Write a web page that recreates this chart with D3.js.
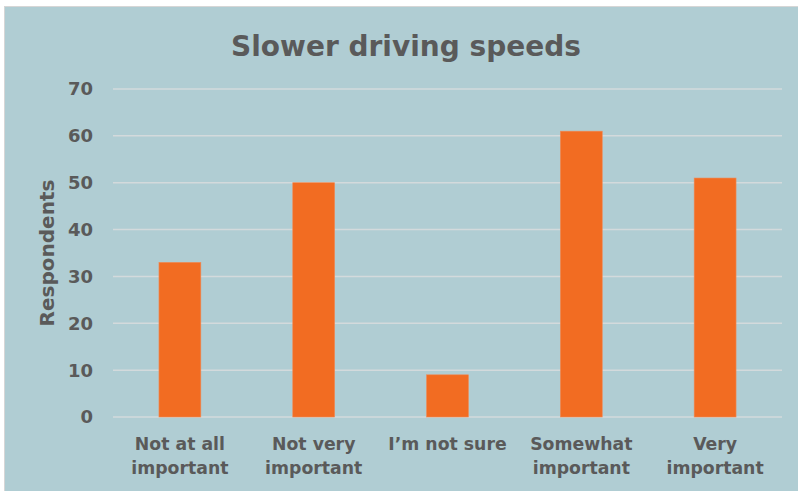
<!DOCTYPE html>
<html><head><meta charset="utf-8">
<script src="https://cdn.jsdelivr.net/npm/d3@7"></script>
<style>html,body{margin:0;padding:0;background:#fff;}svg{display:block;}</style>
</head><body>
<svg id="c" width="798" height="491"></svg>
<script>
const categories = [["Not at all","important"],["Not very","important"],["I’m not sure"],["Somewhat","important"],["Very","important"]];
const values = [33, 50, 9, 61, 51];
const yTicks = [0, 10, 20, 30, 40, 50, 60, 70];
const title = "Slower driving speeds";
const yTitle = "Respondents";

const svg = d3.select("#c");
const W = 798, H = 491;
const font = "'DejaVu Sans', sans-serif";
const textCol = "#5a5a5a";

svg.append("rect").attr("x", 4).attr("y", 6).attr("width", W - 4).attr("height", H - 6).attr("fill", "#d6d6d6");
svg.append("rect").attr("x", 5).attr("y", 7).attr("width", W - 5).attr("height", H - 7).attr("fill", "#b0cdd3");

const m = {l: 113, r: 782, t: 89, b: 417};
const x = d3.scaleBand().domain(d3.range(categories.length)).range([m.l, m.r]).paddingInner(0.687).paddingOuter(0.3435);
const y = d3.scaleLinear().domain([0, 70]).range([m.b, m.t]);

const g = svg.append("g");
g.selectAll("line.grid").data(yTicks).join("line")
  .attr("x1", m.l).attr("x2", m.r)
  .attr("y1", d => y(d)).attr("y2", d => y(d))
  .attr("stroke", "#d3dadc").attr("stroke-width", 1.5);

g.selectAll("rect.bar").data(values).join("rect")
  .attr("x", (d, i) => x(i)).attr("width", x.bandwidth())
  .attr("y", d => y(d)).attr("height", d => y(0) - y(d))
  .attr("fill", "#f26c22").attr("stroke", "#f08a55").attr("stroke-width", 0.6);

g.selectAll("text.yt").data(yTicks).join("text")
  .attr("x", 93).attr("y", d => y(d)).attr("dy", "0.36em")
  .attr("text-anchor", "end").attr("font-family", font).attr("font-weight", 700)
  .attr("font-size", 18).attr("fill", textCol).text(d => d);

const xl = g.selectAll("text.xt").data(categories).join("text")
  .attr("text-anchor", "middle").attr("font-family", font).attr("font-weight", 700)
  .attr("font-size", 17.3).attr("fill", textCol)
  .attr("transform", (d, i) => `translate(${x(i) + x.bandwidth() / 2},450)`);
xl.selectAll("tspan").data(d => d).join("tspan")
  .attr("x", 0).attr("y", (d, j) => j * 24).text(d => d);

svg.append("text").attr("x", 406).attr("y", 56).attr("text-anchor", "middle")
  .attr("font-family", font).attr("font-weight", 700).attr("font-size", 28)
  .attr("fill", textCol).text(title);

svg.append("text").attr("transform", "translate(54,253) rotate(-90)")
  .attr("text-anchor", "middle").attr("font-family", font).attr("font-weight", 700)
  .attr("font-size", 20).attr("fill", textCol).text(yTitle);
</script>
</body></html>
